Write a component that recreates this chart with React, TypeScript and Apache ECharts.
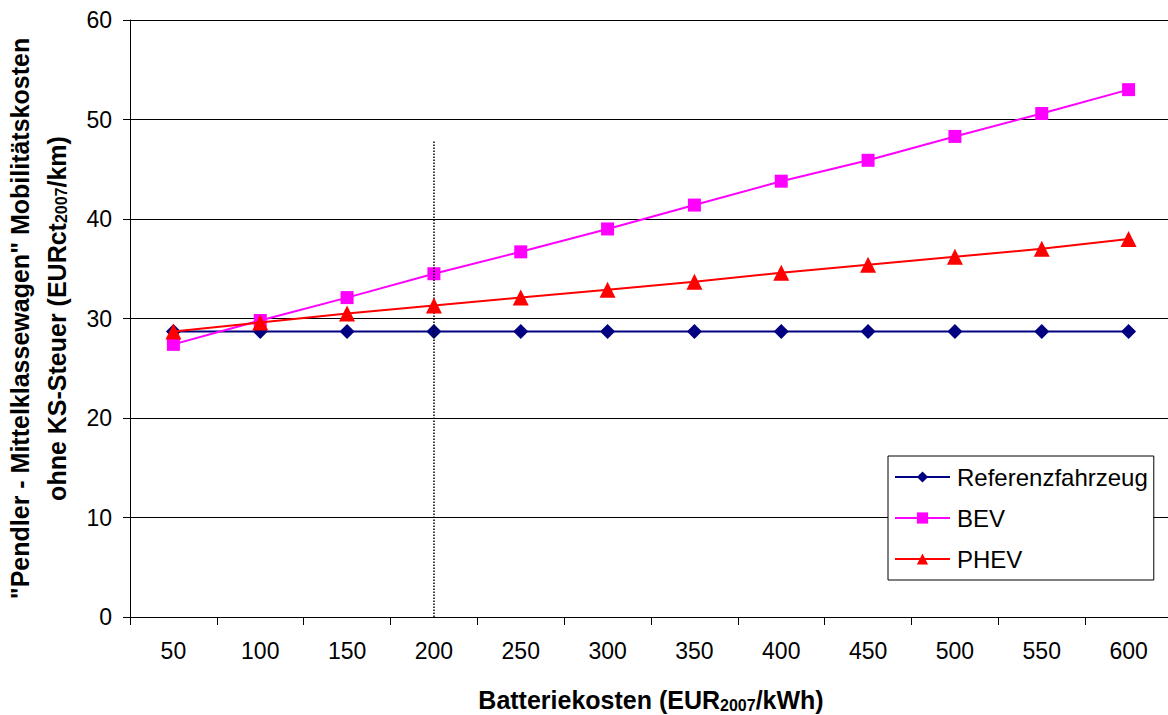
import React, { useEffect, useRef } from "react";
import * as echarts from "echarts";

const categories = ["50", "100", "150", "200", "250", "300", "350", "400", "450", "500", "550", "600"];
const referenz = [28.7, 28.7, 28.7, 28.7, 28.7, 28.7, 28.7, 28.7, 28.7, 28.7, 28.7, 28.7];
const bev = [27.4, 29.8, 32.1, 34.5, 36.7, 39.0, 41.4, 43.8, 45.9, 48.3, 50.6, 53.0];
const phev = [28.7, 29.6, 30.5, 31.3, 32.1, 32.9, 33.7, 34.6, 35.4, 36.2, 37.0, 38.0];
const yTicks = [0, 10, 20, 30, 40, 50, 60];
const markerCategory = "200";
const markerTop = 47.8;

const FONT = "'Liberation Sans', Arial, sans-serif";

export default function App() {
  const ref = useRef<HTMLDivElement>(null);
  useEffect(() => {
    document.body.style.margin = "0";
    const chart = echarts.init(ref.current!, null, { renderer: "svg" });
    chart.setOption({
      animation: false,
      backgroundColor: "#fff",
      textStyle: { fontFamily: FONT },
      grid: { left: 130, right: -4, top: 20, bottom: 98, containLabel: false, outerBoundsMode: "none" },
      xAxis: {
        type: "category",
        data: categories,
        boundaryGap: true,
        axisLine: { lineStyle: { color: "#000", width: 1 } },
        axisTick: { show: true, length: 8, lineStyle: { color: "#000" } },
        axisLabel: { color: "#000", fontSize: 23, margin: 22, fontFamily: FONT },
        name: "{b|Batteriekosten (EUR}{s|2007}{b|/kWh)}",
        nameLocation: "middle",
        nameGap: 70,
        nameTextStyle: {
          rich: {
            b: { fontSize: 25, fontWeight: "bold", color: "#000", fontFamily: FONT },
            s: { fontSize: 16, fontWeight: "bold", color: "#000", fontFamily: FONT, padding: [10, 0, 0, 0] },
          },
        },
      },
      yAxis: {
        type: "value",
        min: yTicks[0],
        max: yTicks[yTicks.length - 1],
        interval: 10,
        axisLine: { show: true, lineStyle: { color: "#000", width: 1 } },
        axisTick: { show: true, length: 7, lineStyle: { color: "#000" } },
        axisLabel: { color: "#000", fontSize: 23, margin: 18, fontFamily: FONT },
        splitLine: { show: true, lineStyle: { color: "#000", width: 1 } },
        name:
          '{b|"Pendler - Mittelklassewagen" Mobilitätskosten}\n{b|ohne KS-Steuer (EURct}{s|2007}{b|/km)}',
        nameLocation: "middle",
        nameRotate: 90,
        nameGap: 55,
        nameTextStyle: {
          align: "center",
          lineHeight: 37,
          rich: {
            b: { fontSize: 25, fontWeight: "bold", color: "#000", fontFamily: FONT, lineHeight: 37 },
            s: { fontSize: 16, fontWeight: "bold", color: "#000", fontFamily: FONT, padding: [10, 0, 0, 0], lineHeight: 37 },
          },
        },
      },
      legend: {
        orient: "vertical",
        left: 888,
        top: 456,
        padding: [9, 6, 9, 6],
        itemGap: 17,
        itemWidth: 55,
        itemHeight: 14,
        backgroundColor: "#fff",
        borderColor: "#000",
        borderWidth: 1,
        textStyle: { fontSize: 24, color: "#000", fontFamily: FONT, padding: [0, 0, 0, 2] },
        data: ["Referenzfahrzeug", "BEV", "PHEV"],
      },
      series: [
        {
          name: "Referenzfahrzeug",
          type: "line",
          data: referenz,
          symbol: "diamond",
          symbolSize: 15,
          lineStyle: { color: "#000080", width: 2 },
          itemStyle: { color: "#000080" },
          z: 3,
        },
        {
          name: "BEV",
          type: "line",
          data: bev,
          symbol: "rect",
          symbolSize: 13,
          lineStyle: { color: "#FF00FF", width: 2 },
          itemStyle: { color: "#FF00FF" },
          z: 4,
        },
        {
          name: "PHEV",
          type: "line",
          data: phev,
          symbol: "triangle",
          symbolSize: 16,
          lineStyle: { color: "#FF0000", width: 2 },
          itemStyle: { color: "#FF0000" },
          z: 5,
          markLine: {
            silent: true,
            symbol: ["none", "none"],
            label: { show: false },
            lineStyle: { color: "#000", type: "dotted", width: 1.5 },
            data: [[{ coord: [markerCategory, 0] }, { coord: [markerCategory, markerTop] }]],
          },
        },
      ],
    });
    return () => chart.dispose();
  }, []);
  return <div ref={ref} style={{ width: 1168, height: 715 }} />;
}
